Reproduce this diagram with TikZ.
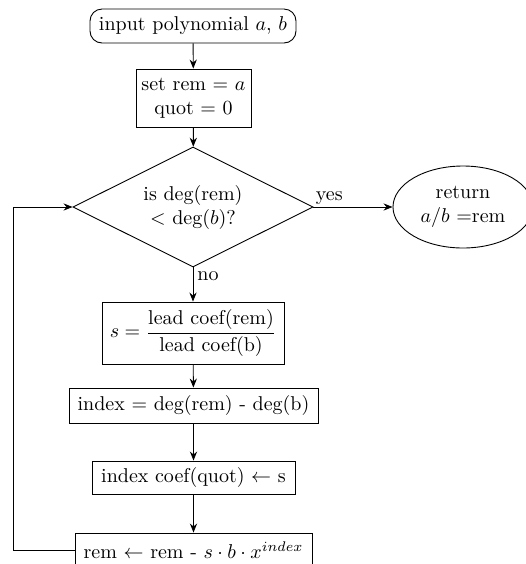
\documentclass[tikz,border=0pt]{standalone}
\usepackage{amsmath}
\usepackage{tikz}
\usetikzlibrary{shapes.geometric,arrows.meta}
\tikzset{
  procbox/.style={draw, rectangle, inner sep=2pt, align=center},
  startbox/.style={procbox, rounded corners=6pt},
  decision/.style={draw, diamond, aspect=2, inner sep=0pt, align=center,
                   minimum width=120pt, minimum height=60pt},
  endbox/.style={draw, ellipse, inner sep=0pt, align=center,
                 minimum width=70pt, minimum height=41pt},
  flow/.style={-{Stealth[length=4.5pt,width=3.6pt]}},
}

\begin{document}
\begin{tikzpicture}[x=0.5pt, y=-0.5pt, line width=0.45pt]
  \useasboundingbox (0,0) rectangle (526,564);
  \clip (0,0) rectangle (526,564);
  % nodes, top to bottom
  \node[startbox, minimum width=103pt, minimum height=17pt] (start) at (193,26)
       {input polynomial $a$, $b$};
  \node[procbox, minimum width=57.5pt, minimum height=29pt] (init) at (193.5,98)
       {set rem = $a$\\ quot = 0};
  \node[decision] (test) at (193,207) {is deg(rem)\\ $<$ deg($b$)?};
  \node[endbox] (done) at (463,207) {return\\ $a/b$ =rem};
  \node[procbox, minimum width=91pt, minimum height=31pt] (lead) at (193,333)
       {$s = \dfrac{\text{lead coef(rem)}}{\text{lead coef(b)}}$};
  \node[procbox, minimum width=124.5pt, minimum height=17.5pt] (idx) at (193.5,405.5)
       {index = deg(rem) - deg(b)};
  \node[procbox, minimum width=101.5pt, minimum height=16.5pt] (setq) at (193.5,477.5)
       {index coef(quot) $\leftarrow$ s};
  \node[procbox, minimum width=118.5pt, minimum height=17pt] (upd) at (193.5,550)
       {rem $\leftarrow$ rem - $s\cdot b\cdot x^{index}$};
  \coordinate (loop) at (13,550);
  % connectors
  \draw[flow] (start) -- (init);
  \draw[flow] (init) -- (test);
  \draw[flow] (test.east) -- node[pos=0, anchor=south west, inner sep=1pt] {yes} (done.west);
  \draw[flow] (test.south) -- node[pos=0, anchor=north west, inner sep=2pt] {no} (lead);
  \draw[flow] (lead) -- (idx);
  \draw[flow] (idx) -- (setq);
  \draw[flow] (setq) -- (upd);
  \draw[flow] (upd.west) -- (loop) |- (test.west);
\end{tikzpicture}
\end{document}
